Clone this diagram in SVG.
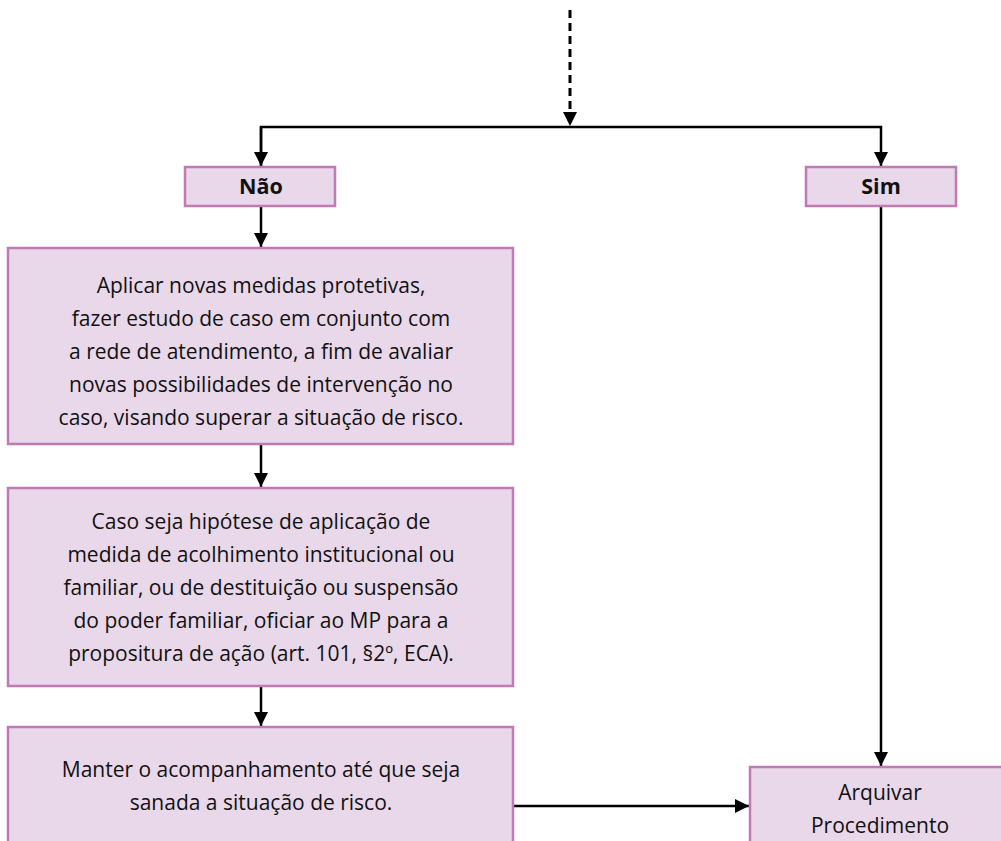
<svg xmlns="http://www.w3.org/2000/svg" width="1001" height="841" viewBox="0 0 1001 841">
<style>
.box{fill:#e9d8e9;stroke:#c07ab4;stroke-width:2.5}
.t{font-family:"Open Sans","Noto Sans","Liberation Sans",sans-serif;font-size:21px;fill:#111;text-anchor:middle}
.b{font-weight:bold;font-size:21.5px}
.ln{stroke:#000;stroke-width:2.5;fill:none}
</style>
<defs>
<marker id="ah2" markerWidth="14" markerHeight="16" refX="14" refY="8" orient="auto" markerUnits="userSpaceOnUse" viewBox="0 0 14 16">
<path d="M0,1 L14,8 L0,15 Z" fill="#000"/>
</marker>
</defs>
<rect width="1001" height="841" fill="#fff"/>
<g id="connectors">
<line x1="570" y1="10" x2="570" y2="126" stroke="#000" stroke-width="3" stroke-dasharray="8,5" marker-end="url(#ah2)"/>
<polyline class="ln" points="261,166 261,127 881,127 881,166" marker-end="url(#ah2)"/>
<line class="ln" x1="261" y1="127" x2="261" y2="166" marker-end="url(#ah2)"/>
<line class="ln" x1="261" y1="207" x2="261" y2="247" marker-end="url(#ah2)"/>
<line class="ln" x1="261" y1="445" x2="261" y2="487" marker-end="url(#ah2)"/>
<line class="ln" x1="261" y1="687" x2="261" y2="726" marker-end="url(#ah2)"/>
<line class="ln" x1="881" y1="207" x2="881" y2="766" marker-end="url(#ah2)"/>
<line class="ln" x1="514" y1="806" x2="749" y2="806" marker-end="url(#ah2)"/>
</g>
<g id="nao">
<rect class="box" x="185" y="167" width="150" height="39"/>
<text class="t b" x="261" y="194">Não</text>
</g>
<g id="sim">
<rect class="box" x="806" y="167" width="150" height="39"/>
<text class="t b" x="881" y="194">Sim</text>
</g>
<g id="box1">
<rect class="box" x="8" y="248" width="505" height="196"/>
<text class="t" x="261" y="293">Aplicar novas medidas protetivas,</text>
<text class="t" x="261" y="326">fazer estudo de caso em conjunto com</text>
<text class="t" x="261" y="359">a rede de atendimento, a fim de avaliar</text>
<text class="t" x="261" y="392">novas possibilidades de intervenção no</text>
<text class="t" x="261" y="425">caso, visando superar a situação de risco.</text>
</g>
<g id="box2">
<rect class="box" x="8" y="488" width="505" height="198"/>
<text class="t" x="261" y="529">Caso seja hipótese de aplicação de</text>
<text class="t" x="261" y="562">medida de acolhimento institucional ou</text>
<text class="t" x="261" y="595">familiar, ou de destituição ou suspensão</text>
<text class="t" x="261" y="628">do poder familiar, oficiar ao MP para a</text>
<text class="t" x="261" y="661">propositura de ação (art. 101, §2º, ECA).</text>
</g>
<g id="box3">
<rect class="box" x="8" y="727" width="505" height="130"/>
<text class="t" x="261" y="777">Manter o acompanhamento até que seja</text>
<text class="t" x="261" y="810">sanada a situação de risco.</text>
</g>
<g id="arquivar">
<rect class="box" x="750" y="767" width="270" height="90"/>
<text class="t" x="880" y="800">Arquivar</text>
<text class="t" x="880" y="833">Procedimento</text>
</g>
</svg>
